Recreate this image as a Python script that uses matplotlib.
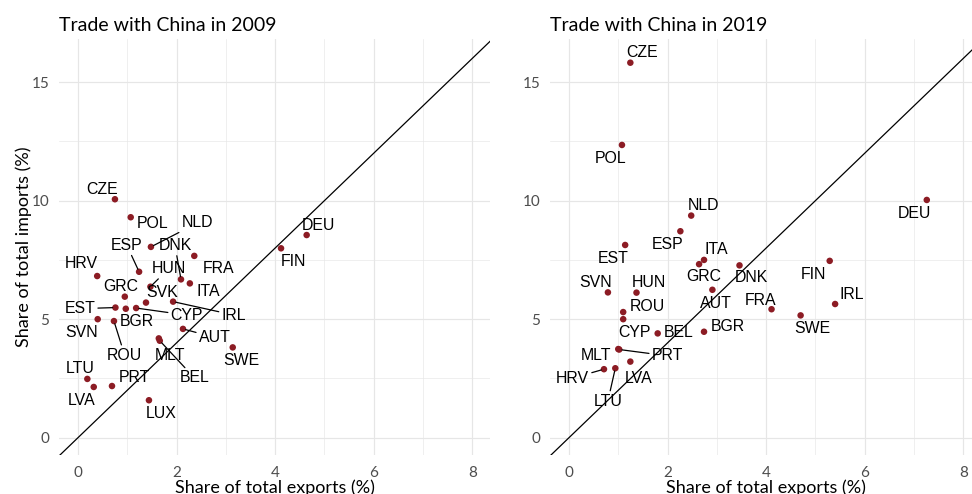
import numpy as np
import matplotlib
matplotlib.use("Agg")
import matplotlib.pyplot as plt
from matplotlib.ticker import MultipleLocator

# data (share of total exports / imports, %)
codes_2009 = ["CZE", "POL", "NLD", "ESP", "FRA", "DNK", "ITA", "HRV", "HUN",
              "GRC", "SVK", "EST", "BGR", "CYP", "IRL", "SVN", "ROU", "AUT",
              "MLT", "BEL", "SWE", "LTU", "LVA", "PRT", "LUX", "FIN", "DEU"]
exports_2009 = [0.75, 1.07, 1.48, 1.24, 2.36, 2.09, 2.27, 0.39, 1.47,
                0.95, 1.38, 0.76, 0.97, 1.18, 1.93, 0.40, 0.73, 2.13,
                1.64, 1.66, 3.14, 0.19, 0.32, 0.69, 1.44, 4.12, 4.64]
imports_2009 = [10.06, 9.30, 8.05, 7.00, 7.67, 6.68, 6.51, 6.82, 6.37,
                5.95, 5.70, 5.49, 5.44, 5.47, 5.74, 5.00, 4.92, 4.59,
                4.19, 4.09, 3.81, 2.48, 2.14, 2.18, 1.58, 7.99, 8.55]

codes_2019 = ["CZE", "POL", "NLD", "ESP", "EST", "ITA", "GRC", "DNK", "FIN",
              "DEU", "SVN", "HUN", "AUT", "IRL", "FRA", "SWE", "ROU", "CYP",
              "BEL", "BGR", "MLT", "PRT", "LVA", "LTU", "HRV"]
exports_2019 = [1.245, 1.075, 2.48, 2.26, 1.14, 2.74, 2.64, 3.46, 5.29,
                7.26, 0.79, 1.37, 2.91, 5.40, 4.11, 4.70, 1.10, 1.10,
                1.80, 2.74, 1.00, 1.02, 1.245, 0.94, 0.71]
imports_2019 = [15.82, 12.35, 9.37, 8.71, 8.13, 7.50, 7.32, 7.27, 7.46,
                10.03, 6.13, 6.12, 6.24, 5.64, 5.42, 5.16, 5.30, 5.00,
                4.40, 4.47, 3.74, 3.72, 3.21, 2.93, 2.89]

# label placement (pixel offsets from the point, y up) and whether a leader line is drawn
offsets_2009 = {
    "CZE": (-12.5, 10.7, 0), "POL": (21.5, -4.7, 0), "NLD": (46.5, 25, 1),
    "ESP": (-12.3, 27.7, 1), "FRA": (24.7, -11.5, 0), "DNK": (-6, 35, 1),
    "ITA": (18.3, -6.7, 0), "HRV": (-16, 13.2, 0), "HUN": (18.3, 19.2, 1),
    "GRC": (-4.2, 11.7, 0), "SVK": (16.5, 11, 0), "EST": (-35.7, 0, 1),
    "BGR": (11.5, -12.1, 0), "CYP": (50.7, -6, 1), "IRL": (60.7, -12.3, 1),
    "SVN": (-16.4, -11.8, 0), "ROU": (10.7, -33, 1), "AUT": (31.8, -7.5, 1),
    "MLT": (11.3, -15.7, 0), "BEL": (34.7, -36.1, 1), "SWE": (8.6, -12.2, 0),
    "LTU": (-7.6, 11.5, 0), "PRT": (22.5, 9.2, 0), "LVA": (-12.5, -12.8, 0),
    "LUX": (12.2, -12.2, 0), "FIN": (12, -12.5, 0), "DEU": (12.1, 10.8, 0),
}
offsets_2019 = {
    "CZE": (11.6, 11, 0), "POL": (-11.8, -12.2, 0), "NLD": (12, 10.9, 0),
    "ESP": (-12.4, -12.2, 0), "EST": (-12.2, -12.2, 0), "ITA": (12, 11.2, 0),
    "GRC": (4.9, -11.5, 0), "DNK": (11.7, -10.9, 0), "FIN": (-15.8, -12.2, 0),
    "DEU": (-12.5, -12.2, 0), "SVN": (-12, 10.8, 0), "HUN": (12.1, 11.2, 0),
    "AUT": (3.3, -12.5, 0), "IRL": (16.4, 10.5, 0), "FRA": (-11.2, 10.1, 0),
    "SWE": (11.8, -12.5, 0), "ROU": (24, 6.8, 0), "CYP": (11, -11.9, 0),
    "BEL": (20.7, 2.1, 0), "BGR": (23.7, 6.2, 0), "MLT": (-22.3, -5.2, 0),
    "PRT": (48.2, -5.2, 1), "LVA": (8.5, -15.5, 0), "LTU": (-7.4, -31.7, 1),
    "HRV": (-31.5, -7.9, 1),
}

point_col = "#8c1c24"
grid_col = "#e6e6e6"
tick_col = "#4d4d4d"
ui_font = "Lato"
label_font = "Liberation Sans"
cap_h = 5.6  # half cap height of labels, px


def panel(ax, title, codes, xs, ys, offsets, ylabel=None):
    ax.set_xlim(-0.385, 8.36)
    ax.set_ylim(-0.73, 16.82)
    ax.xaxis.set_major_locator(MultipleLocator(2))
    ax.xaxis.set_minor_locator(MultipleLocator(1))
    ax.yaxis.set_major_locator(MultipleLocator(5))
    ax.yaxis.set_minor_locator(MultipleLocator(2.5))
    ax.grid(which="major", color=grid_col, lw=0.85)
    ax.grid(which="minor", color=grid_col, lw=0.45)
    ax.set_axisbelow(True)
    for s in ax.spines.values():
        s.set_visible(False)
    ax.tick_params(which="both", length=0, colors=tick_col, labelsize=11)
    ax.tick_params(axis="x", pad=8)
    ax.tick_params(axis="y", pad=7)
    for lab in ax.get_xticklabels() + ax.get_yticklabels():
        lab.set_family(ui_font)

    ax.axline((0, 0), slope=2, color="black", lw=0.9, zorder=2)
    ax.scatter(xs, ys, s=22, color=point_col, edgecolor="none", zorder=3)

    for c, x, y in zip(codes, xs, ys):
        dx, dy, seg = offsets[c]
        props = None
        if seg:
            props = dict(arrowstyle="-", color="black", lw=0.9,
                         shrinkA=0, shrinkB=2)
        ax.annotate(c, (x, y), xytext=(dx, dy - cap_h),
                    textcoords="offset pixels", ha="center", va="baseline",
                    fontsize=11.4, family=label_font, color="black",
                    arrowprops=props, zorder=4)

    ax.set_title(title, loc="left", fontsize=14, family=ui_font,
                 color="black", pad=5.5)
    ax.set_xlabel("Share of total exports (%)", fontsize=13, family=ui_font,
                  color="black", va="baseline")
    ax.xaxis.set_label_coords(0.5, -0.0913)
    if ylabel:
        ax.set_ylabel(ylabel, fontsize=13, family=ui_font, color="black",
                      va="center")
        ax.yaxis.set_label_coords(-0.0812, 0.5)


fig = plt.figure(figsize=(9.72, 4.94), dpi=100)
ax1 = fig.add_axes([59 / 972, 1 - 455 / 494, 431 / 972, 416 / 494])
ax2 = fig.add_axes([550 / 972, 1 - 455 / 494, 431 / 972, 416 / 494])

panel(ax1, "Trade with China in 2009", codes_2009, exports_2009, imports_2009,
      offsets_2009, ylabel="Share of total imports (%)")
panel(ax2, "Trade with China in 2019", codes_2019, exports_2019, imports_2019,
      offsets_2019)

fig.savefig("out.png", dpi=100)
